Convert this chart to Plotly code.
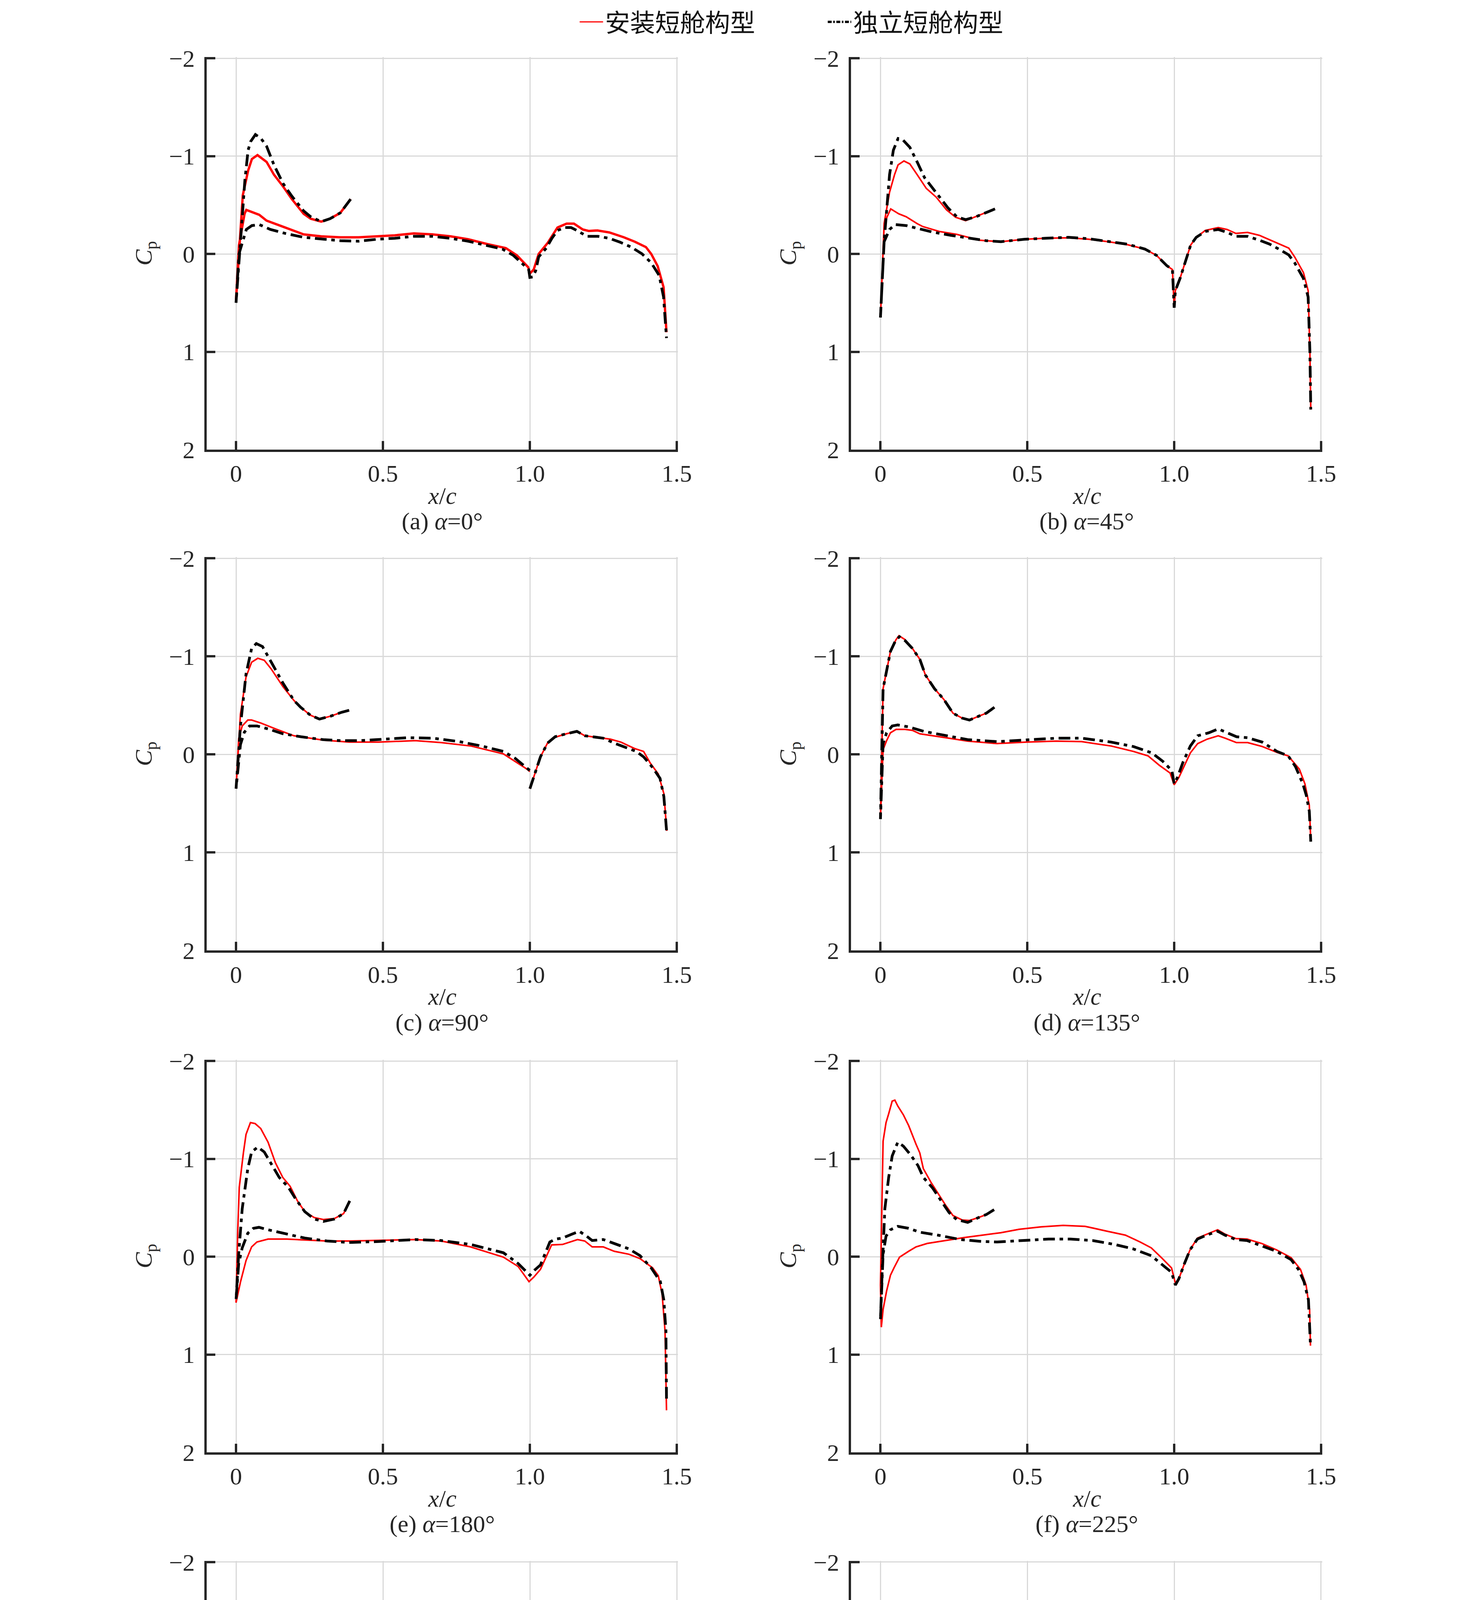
import plotly.graph_objects as go

# Cp distributions: (x/c, Cp); None splits a line
# inst = 安装短舱构型 (red), iso = 独立短舱构型 (black dash-dot)

A_INST = [(0.39, -0.56), (0.355, -0.42), (0.32, -0.36), (0.29, -0.33), (0.254, -0.36), (0.23, -0.41),
          (0.19, -0.56), (0.16, -0.69), (0.129, -0.81), (0.104, -0.94), (0.073, -1.01), (0.054, -0.97),
          (0.041, -0.85), (0.023, -0.6), (0.0, 0.47), (0.01, -0.09), (0.029, -0.41), (0.035, -0.45),
          (0.079, -0.40), (0.104, -0.34), (0.167, -0.27), (0.23, -0.20), (0.29, -0.18), (0.355, -0.17),
          (0.417, -0.17), (0.48, -0.18), (0.54, -0.19), (0.605, -0.21), (0.668, -0.20), (0.73, -0.18),
          (0.79, -0.15), (0.856, -0.10), (0.918, -0.06), (0.956, 0.015), (0.994, 0.135), (1.0, 0.20),
          (1.013, 0.16), (1.03, 0.0), (1.06, -0.11), (1.094, -0.27), (1.125, -0.31), (1.15, -0.31),
          (1.18, -0.25), (1.2, -0.235), (1.23, -0.24), (1.27, -0.22), (1.32, -0.17), (1.357, -0.125),
          (1.395, -0.07), (1.413, 0.0), (1.435, 0.125), (1.455, 0.34), (1.46, 0.6), (1.465, 0.8)]
A_ISO = [(0.39, -0.56), (0.355, -0.42), (0.32, -0.36), (0.29, -0.33), (0.254, -0.38), (0.23, -0.44),
         (0.19, -0.59), (0.16, -0.72), (0.129, -0.91), (0.104, -1.10), (0.085, -1.18), (0.066, -1.22),
         (0.05, -1.15), (0.041, -1.06), (0.03, -0.75), (0.016, -0.13), (0.0, 0.50), (0.01, 0.0),
         (0.023, -0.13), (0.035, -0.25), (0.054, -0.29), (0.079, -0.30), (0.117, -0.25), (0.167, -0.21),
         (0.23, -0.17), (0.29, -0.15), (0.355, -0.135), (0.417, -0.13), (0.48, -0.15), (0.54, -0.16),
         (0.605, -0.18), (0.668, -0.18), (0.73, -0.16), (0.79, -0.13), (0.856, -0.085), (0.906, -0.05),
         (0.944, 0.015), (0.98, 0.11), (0.996, 0.16), (1.0, 0.24), (1.01, 0.235), (1.02, 0.17),
         (1.03, 0.03), (1.056, -0.06), (1.075, -0.16), (1.094, -0.24), (1.12, -0.27), (1.14, -0.27),
         (1.163, -0.235), (1.194, -0.18), (1.232, -0.18), (1.27, -0.16), (1.307, -0.12), (1.345, -0.07),
         (1.382, 0.0), (1.413, 0.09), (1.44, 0.22), (1.455, 0.44), (1.465, 0.86)]

B_INST = [(0.39, -0.46), (0.356, -0.42), (0.325, -0.38), (0.29, -0.34), (0.256, -0.375), (0.225, -0.45),
          (0.19, -0.58), (0.156, -0.67), (0.125, -0.81), (0.1, -0.92), (0.08, -0.95), (0.06, -0.91),
          (0.048, -0.81), (0.031, -0.63), (0.0125, -0.31), (0.0, 0.65), (0.0125, -0.28), (0.022, -0.375),
          (0.035, -0.46), (0.0625, -0.41), (0.0875, -0.38), (0.125, -0.31), (0.144, -0.28), (0.2, -0.23),
          (0.26, -0.20), (0.3375, -0.14), (0.41, -0.125), (0.49, -0.15), (0.56, -0.16), (0.64, -0.165),
          (0.71, -0.15), (0.775, -0.125), (0.84, -0.095), (0.9, -0.05), (0.94, 0.015), (0.975, 0.12),
          (0.994, 0.16), (1.0, 0.55), (1.004, 0.375), (1.02, 0.25), (1.04, 0.06), (1.056, -0.09),
          (1.075, -0.17), (1.106, -0.24), (1.15, -0.27), (1.18, -0.25), (1.21, -0.21), (1.25, -0.22),
          (1.29, -0.19), (1.34, -0.125), (1.39, -0.06), (1.41, 0.03), (1.44, 0.19), (1.456, 0.375),
          (1.462, 1.0), (1.465, 1.59)]
B_ISO = [(0.39, -0.46), (0.356, -0.42), (0.325, -0.38), (0.29, -0.35), (0.26, -0.38), (0.23, -0.47),
         (0.2, -0.59), (0.175, -0.69), (0.15, -0.78), (0.125, -0.94), (0.1, -1.09), (0.075, -1.17),
         (0.06, -1.18), (0.044, -1.06), (0.031, -0.81), (0.0125, -0.125), (0.0, 0.65), (0.0125, -0.125),
         (0.031, -0.25), (0.05, -0.30), (0.0875, -0.29), (0.125, -0.26), (0.175, -0.225), (0.24, -0.19),
         (0.3, -0.16), (0.36, -0.135), (0.41, -0.125), (0.49, -0.15), (0.56, -0.16), (0.64, -0.17),
         (0.71, -0.155), (0.775, -0.13), (0.84, -0.10), (0.9, -0.05), (0.94, 0.015), (0.975, 0.12),
         (0.994, 0.16), (1.0, 0.55), (1.004, 0.375), (1.02, 0.25), (1.04, 0.06), (1.056, -0.09),
         (1.075, -0.17), (1.106, -0.23), (1.15, -0.25), (1.18, -0.22), (1.21, -0.18), (1.25, -0.18),
         (1.29, -0.14), (1.325, -0.10), (1.356, -0.05), (1.39, 0.01), (1.41, 0.09), (1.44, 0.25),
         (1.456, 0.44), (1.462, 1.0), (1.465, 1.59)]

C_INST = [(0.385, -0.45), (0.36, -0.43), (0.322, -0.39), (0.284, -0.36), (0.253, -0.40), (0.22, -0.48),
          (0.197, -0.55), (0.16, -0.69), (0.12, -0.87), (0.096, -0.96), (0.074, -0.98), (0.053, -0.94),
          (0.034, -0.79), (0.015, -0.41), (0.0, 0.35), (0.009, -0.16), (0.021, -0.29), (0.04, -0.35),
          (0.053, -0.35), (0.084, -0.32), (0.134, -0.26), (0.197, -0.19), (0.297, -0.145), (0.385, -0.125),
          (0.485, -0.125), (0.61, -0.14), (0.698, -0.12), (0.8, -0.085), (0.91, -0.005), (0.96, 0.09),
          (0.99, 0.15), (1.0, 0.175), (None, None), (1.0, 0.35), (1.015, 0.21), (1.036, 0.025),
          (1.06, -0.115), (1.086, -0.175), (1.124, -0.21), (1.16, -0.235), (1.187, -0.19), (1.21, -0.18),
          (1.274, -0.155), (1.31, -0.125), (1.356, -0.06), (1.387, -0.03), (1.41, 0.09), (1.437, 0.2),
          (1.456, 0.40), (1.466, 0.78)]
C_ISO = [(0.385, -0.45), (0.36, -0.43), (0.322, -0.39), (0.284, -0.36), (0.253, -0.40), (0.22, -0.48),
         (0.197, -0.55), (0.16, -0.725), (0.12, -0.94), (0.09, -1.10), (0.069, -1.13), (0.053, -1.08),
         (0.034, -0.82), (0.015, -0.29), (0.0, 0.35), (0.015, -0.10), (0.028, -0.225), (0.046, -0.29),
         (0.071, -0.29), (0.109, -0.26), (0.16, -0.21), (0.22, -0.18), (0.297, -0.15), (0.36, -0.14),
         (0.42, -0.14), (0.51, -0.155), (0.585, -0.17), (0.67, -0.165), (0.76, -0.13), (0.836, -0.085),
         (0.91, -0.03), (0.95, 0.04), (0.986, 0.135), (1.0, 0.165), (None, None), (1.0, 0.35),
         (1.015, 0.21), (1.036, 0.025), (1.06, -0.115), (1.086, -0.18), (1.124, -0.21), (1.16, -0.235),
         (1.187, -0.19), (1.21, -0.18), (1.25, -0.165), (1.287, -0.115), (1.325, -0.075), (1.362, -0.03),
         (1.387, 0.025), (1.418, 0.135), (1.443, 0.245), (1.456, 0.43), (1.466, 0.81)]

D_INST = [(0.388, -0.48), (0.36, -0.42), (0.335, -0.39), (0.303, -0.35), (0.278, -0.37), (0.247, -0.42),
          (0.216, -0.56), (0.184, -0.67), (0.153, -0.81), (0.134, -0.97), (0.109, -1.08), (0.084, -1.17),
          (0.063, -1.21), (0.053, -1.17), (0.034, -1.05), (0.021, -0.86), (0.009, -0.67), (0.0, 0.66),
          (0.009, -0.05), (0.021, -0.14), (0.034, -0.22), (0.053, -0.255), (0.084, -0.255), (0.109, -0.245),
          (0.134, -0.21), (0.222, -0.17), (0.297, -0.135), (0.397, -0.11), (0.497, -0.125), (0.598, -0.135),
          (0.685, -0.13), (0.786, -0.085), (0.861, -0.03), (0.911, 0.015), (0.949, 0.11), (0.986, 0.19),
          (1.0, 0.31), (1.016, 0.235), (1.036, 0.11), (1.055, -0.015), (1.08, -0.11), (1.112, -0.155),
          (1.15, -0.19), (1.174, -0.165), (1.212, -0.12), (1.25, -0.12), (1.3, -0.08), (1.35, -0.02),
          (1.388, 0.015), (1.426, 0.15), (1.445, 0.30), (1.46, 0.52), (1.465, 0.88)]
D_ISO = [(0.388, -0.48), (0.36, -0.42), (0.335, -0.39), (0.303, -0.35), (0.278, -0.37), (0.247, -0.42),
         (0.216, -0.56), (0.184, -0.67), (0.153, -0.81), (0.134, -0.97), (0.109, -1.08), (0.084, -1.16),
         (0.065, -1.20), (0.053, -1.17), (0.034, -1.05), (0.021, -0.86), (0.009, -0.67), (0.0, 0.66),
         (0.009, -0.11), (0.021, -0.22), (0.04, -0.29), (0.059, -0.30), (0.096, -0.28), (0.147, -0.235),
         (0.222, -0.19), (0.297, -0.15), (0.397, -0.13), (0.497, -0.145), (0.598, -0.165), (0.685, -0.165),
         (0.786, -0.125), (0.861, -0.08), (0.924, -0.015), (0.961, 0.07), (0.992, 0.165), (1.0, 0.30),
         (1.011, 0.235), (1.03, 0.08), (1.055, -0.085), (1.08, -0.19), (1.118, -0.22), (1.15, -0.26),
         (1.174, -0.23), (1.212, -0.18), (1.25, -0.17), (1.3, -0.125), (1.35, -0.03), (1.388, 0.015),
         (1.413, 0.125), (1.438, 0.30), (1.45, 0.42), (1.46, 0.58), (1.465, 0.89)]

E_INST = [(0.387, -0.57), (0.366, -0.44), (0.335, -0.39), (0.297, -0.38), (0.266, -0.40), (0.234, -0.46),
          (0.209, -0.57), (0.184, -0.72), (0.159, -0.81), (0.134, -0.96), (0.109, -1.17), (0.084, -1.31),
          (0.065, -1.36), (0.049, -1.37), (0.034, -1.25), (0.025, -1.06), (0.011, -0.71), (0.006, -0.28),
          (0.0, 0.47), (0.015, 0.26), (0.034, 0.04), (0.053, -0.10), (0.071, -0.15), (0.109, -0.18),
          (0.172, -0.18), (0.234, -0.17), (0.31, -0.16), (0.385, -0.16), (0.485, -0.165), (0.61, -0.175),
          (0.698, -0.16), (0.798, -0.10), (0.91, 0.005), (0.96, 0.10), (0.997, 0.255), (1.013, 0.21),
          (1.036, 0.13), (1.061, -0.04), (1.074, -0.12), (1.111, -0.125), (1.137, -0.15), (1.162, -0.175),
          (1.187, -0.16), (1.212, -0.10), (1.25, -0.10), (1.287, -0.055), (1.337, -0.025), (1.375, 0.02),
          (1.418, 0.115), (1.437, 0.195), (1.45, 0.38), (1.46, 0.76), (1.465, 1.57)]
E_ISO = [(0.387, -0.57), (0.366, -0.44), (0.335, -0.385), (0.297, -0.36), (0.266, -0.385), (0.234, -0.46),
         (0.203, -0.59), (0.178, -0.71), (0.147, -0.81), (0.12, -0.95), (0.096, -1.07), (0.074, -1.12),
         (0.053, -1.07), (0.04, -0.90), (0.021, -0.49), (0.009, -0.03), (0.0, 0.44), (0.009, 0.07),
         (0.021, -0.09), (0.04, -0.24), (0.059, -0.29), (0.078, -0.30), (0.109, -0.275), (0.172, -0.23),
         (0.234, -0.19), (0.31, -0.16), (0.385, -0.145), (0.485, -0.155), (0.61, -0.175), (0.698, -0.165),
         (0.798, -0.125), (0.91, -0.04), (0.96, 0.07), (1.0, 0.19), (1.015, 0.14), (1.036, 0.085),
         (1.068, -0.15), (1.087, -0.18), (1.111, -0.19), (1.143, -0.23), (1.168, -0.26), (1.193, -0.21),
         (1.212, -0.165), (1.25, -0.175), (1.287, -0.135), (1.337, -0.08), (1.375, -0.01), (1.413, 0.115),
         (1.444, 0.255), (1.456, 0.445), (1.463, 0.76), (1.465, 1.48)]

F_INST = [(0.387, -0.48), (0.36, -0.43), (0.334, -0.40), (0.303, -0.37), (0.278, -0.375), (0.247, -0.42),
          (0.222, -0.525), (0.196, -0.65), (0.172, -0.76), (0.146, -0.90), (0.134, -1.06), (0.121, -1.15),
          (0.096, -1.34), (0.078, -1.45), (0.059, -1.54), (0.049, -1.60), (0.04, -1.59), (0.028, -1.46),
          (0.019, -1.37), (0.009, -1.18), (0.0, 0.29), (0.003, 0.72), (0.009, 0.54), (0.021, 0.35),
          (0.034, 0.19), (0.046, 0.115), (0.065, 0.005), (0.096, -0.055), (0.121, -0.10), (0.159, -0.135),
          (0.222, -0.165), (0.284, -0.195), (0.347, -0.22), (0.41, -0.245), (0.472, -0.28), (0.547, -0.305),
          (0.622, -0.32), (0.697, -0.31), (0.772, -0.26), (0.834, -0.22), (0.884, -0.15), (0.922, -0.09),
          (0.96, 0.02), (0.991, 0.115), (1.004, 0.27), (1.016, 0.225), (1.035, 0.07), (1.054, -0.07),
          (1.079, -0.19), (1.11, -0.23), (1.148, -0.275), (1.173, -0.23), (1.21, -0.185), (1.248, -0.18),
          (1.298, -0.135), (1.348, -0.07), (1.398, 0.01), (1.43, 0.13), (1.449, 0.29), (1.461, 0.54),
          (1.464, 0.91)]
F_ISO = [(0.387, -0.48), (0.36, -0.43), (0.334, -0.40), (0.297, -0.35), (0.259, -0.38), (0.234, -0.45),
         (0.209, -0.56), (0.178, -0.70), (0.146, -0.81), (0.128, -0.93), (0.103, -1.04), (0.078, -1.13),
         (0.059, -1.17), (0.04, -1.03), (0.028, -0.81), (0.015, -0.49), (0.006, 0.13), (0.0, 0.65),
         (0.009, -0.025), (0.019, -0.21), (0.034, -0.275), (0.059, -0.31), (0.096, -0.29), (0.134, -0.25),
         (0.196, -0.22), (0.272, -0.175), (0.347, -0.155), (0.397, -0.15), (0.472, -0.165), (0.572, -0.18),
         (0.647, -0.18), (0.722, -0.165), (0.797, -0.125), (0.86, -0.08), (0.922, -0.01), (0.96, 0.085),
         (0.991, 0.16), (1.004, 0.29), (1.016, 0.225), (1.035, 0.07), (1.054, -0.07), (1.079, -0.18),
         (1.11, -0.22), (1.148, -0.26), (1.173, -0.22), (1.21, -0.175), (1.248, -0.165), (1.298, -0.11),
         (1.348, -0.055), (1.398, 0.03), (1.423, 0.13), (1.442, 0.255), (1.457, 0.44), (1.464, 0.91)]

G_INST = [(0.385, -0.46), (0.36, -0.43), (0.322, -0.39), (0.284, -0.36), (0.259, -0.39), (0.234, -0.45),
          (0.209, -0.55), (0.178, -0.68), (0.147, -0.81), (0.122, -1.00), (0.096, -1.20), (0.078, -1.32),
          (0.061, -1.40), (0.053, -1.42), (0.04, -1.33), (0.028, -1.13), (0.015, -0.61), (0.006, 0.035),
          (0.003, 0.46), (0.015, 0.30), (0.034, 0.035), (0.053, -0.11), (0.071, -0.14), (0.109, -0.175),
          (0.147, -0.20), (0.197, -0.23), (0.259, -0.255), (0.335, -0.29), (0.41, -0.33), (0.485, -0.37),
          (0.56, -0.39), (0.635, -0.395), (0.704, -0.38), (0.786, -0.305), (0.862, -0.21), (0.925, -0.125),
          (0.962, -0.015), (1.0, 0.085), (None, None), (1.0, 0.27), (1.015, 0.07), (1.034, -0.06),
          (1.053, -0.185), (1.085, -0.29), (1.122, -0.32), (1.147, -0.34), (1.172, -0.31), (1.203, -0.265),
          (1.234, -0.255), (1.284, -0.21), (1.334, -0.125), (1.384, -0.045), (1.41, 0.05), (1.435, 0.165),
          (1.45, 0.36), (1.46, 0.685), (1.463, 0.81)]
G_ISO = [(0.385, -0.46), (0.36, -0.43), (0.322, -0.39), (0.284, -0.36), (0.259, -0.40), (0.234, -0.46),
         (0.209, -0.55), (0.184, -0.65), (0.159, -0.73), (0.134, -0.87), (0.109, -1.02), (0.084, -1.13),
         (0.065, -1.18), (0.046, -1.07), (0.034, -0.87), (0.021, -0.61), (0.009, -0.13), (0.0, 0.38),
         (0.009, 0.10), (0.021, -0.09), (0.034, -0.21), (0.053, -0.29), (0.078, -0.30), (0.109, -0.28),
         (0.172, -0.22), (0.234, -0.19), (0.31, -0.17), (0.385, -0.16), (0.485, -0.175), (0.61, -0.19),
         (0.698, -0.175), (0.798, -0.12), (0.91, -0.02), (0.962, 0.085), (1.0, 0.165), (None, None),
         (1.0, 0.35), (1.015, 0.20), (1.034, 0.02), (1.053, -0.095), (1.085, -0.19), (1.122, -0.23),
         (1.147, -0.25), (1.172, -0.225), (1.197, -0.175), (1.234, -0.165), (1.284, -0.12), (1.334, -0.055),
         (1.384, 0.02), (1.41, 0.10), (1.435, 0.23), (1.45, 0.425), (1.46, 0.815)]

H_INST = [(0.386, -0.46), (0.355, -0.42), (0.317, -0.37), (0.286, -0.35), (0.255, -0.39), (0.23, -0.46),
          (0.205, -0.55), (0.18, -0.65), (0.155, -0.745), (0.136, -0.875), (0.111, -1.0), (0.086, -1.10),
          (0.0675, -1.145), (0.053, -1.12), (0.036, -0.84), (0.024, -0.62), (0.011, -0.23), (0.0, 0.65),
          (0.011, -0.16), (0.024, -0.29), (0.0425, -0.34), (0.0675, -0.34), (0.105, -0.32), (0.1425, -0.28),
          (0.205, -0.26), (0.28, -0.235), (0.355, -0.22), (0.405, -0.22), (0.48, -0.25), (0.58, -0.265),
          (0.6675, -0.27), (0.755, -0.23), (0.83, -0.18), (0.905, -0.10), (0.955, -0.005), (0.99, 0.09),
          (1.0, 0.325), (1.011, 0.26), (1.024, 0.13), (1.0425, -0.03), (1.061, -0.145), (1.086, -0.26),
          (1.1175, -0.30), (1.155, -0.32), (1.186, -0.275), (1.2175, -0.25), (1.255, -0.245), (1.305, -0.195),
          (1.355, -0.12), (1.3925, -0.07), (1.4175, 0.03), (1.4425, 0.195), (1.455, 0.36), (1.461, 1.0),
          (1.465, 1.62)]
H_ISO = [(0.386, -0.46), (0.355, -0.42), (0.317, -0.37), (0.286, -0.35), (0.255, -0.39), (0.23, -0.46),
         (0.205, -0.55), (0.18, -0.65), (0.155, -0.745), (0.136, -0.875), (0.111, -0.99), (0.086, -1.13),
         (0.065, -1.19), (0.049, -1.14), (0.036, -0.88), (0.024, -0.62), (0.011, -0.23), (0.0, 0.65),
         (0.011, -0.13), (0.024, -0.23), (0.0425, -0.29), (0.0675, -0.30), (0.105, -0.275), (0.1425, -0.235),
         (0.205, -0.20), (0.28, -0.175), (0.355, -0.145), (0.405, -0.14), (0.48, -0.16), (0.58, -0.18),
         (0.6675, -0.18), (0.755, -0.15), (0.83, -0.115), (0.905, -0.03), (0.955, 0.065), (0.986, 0.13),
         (0.9975, 0.195), (1.0, 0.49), (1.0075, 0.34), (1.024, 0.195), (1.0425, 0.03), (1.061, -0.08),
         (1.086, -0.18), (1.1175, -0.23), (1.155, -0.25), (1.186, -0.21), (1.2175, -0.18), (1.255, -0.17),
         (1.305, -0.115), (1.355, -0.04), (1.3925, 0.03), (1.4175, 0.13), (1.4425, 0.29), (1.455, 0.52),
         (1.461, 1.01), (1.465, 1.62)]

TAGS = ['(a)', '(b)', '(c)', '(d)', '(e)', '(f)', '(g)', '(h)']
ALPHAS = [0, 45, 90, 135, 180, 225, 270, 315]
INST = [A_INST, B_INST, C_INST, D_INST, E_INST, F_INST, G_INST, H_INST]
ISO = [A_ISO, B_ISO, C_ISO, D_ISO, E_ISO, F_ISO, G_ISO, H_ISO]
NAMES = ['安装短舱构型', '独立短舱构型']
X_TICKS = [0, 0.5, 1.0, 1.5]
X_TICKTEXT = ['0', '0.5', '1.0', '1.5']
Y_TICKS = [-2, -1, 0, 1, 2]
Y_TICKTEXT = ['\u22122', '\u22121', '0', '1', '2']

SERIF = 'Liberation Serif, Times New Roman, serif'
CJK = 'Noto Sans CJK SC'
INK = '#262626'
RED = '#ff0000'
DASHDOT = '30px,12px,9px,12px'
RED_W = [6, 4, 4, 4, 4, 4, 4, 4]   # panel (a) is drawn heavier in the source

# panel placement (paper fractions)
x_dom = [[0.1378, 0.4569], [0.5741, 0.8931]]
y_dom = [[0.7831, 0.9738], [0.5398, 0.7309], [0.2960, 0.4867], [0.0512, 0.2433]]


def split(pairs):
    return [p[0] for p in pairs], [p[1] for p in pairs]


fig = go.Figure()
notes = []

for i in range(8):
    row, col = divmod(i, 2)
    n = '' if i == 0 else str(i + 1)
    xr, cpr = split(INST[i])
    xb, cpb = split(ISO[i])
    fig.add_trace(go.Scatter(x=xr, y=cpr, mode='lines', xaxis='x' + n, yaxis='y' + n,
                             line=dict(color=RED, width=RED_W[i]), showlegend=False, hoverinfo='skip'))
    fig.add_trace(go.Scatter(x=xb, y=cpb, mode='lines', xaxis='x' + n, yaxis='y' + n,
                             line=dict(color='black', width=7, dash=DASHDOT), showlegend=False,
                             hoverinfo='skip'))

    axis_common = dict(showline=True, linecolor=INK, linewidth=6, mirror=False,
                       showgrid=True, gridcolor='#d9d9d9', gridwidth=3, zeroline=False,
                       ticks='inside', ticklen=22, tickwidth=6, tickcolor=INK,
                       tickfont=dict(family=SERIF, size=62, color=INK))
    # ranges nudged a few px past 1.5 / -2 so the edge gridlines are kept
    fig.layout['xaxis' + n] = dict(
        axis_common, domain=x_dom[col], anchor='y' + n, range=[-0.1, 1.504],
        tickvals=X_TICKS, ticktext=X_TICKTEXT, ticklabelstandoff=2)
    fig.layout['yaxis' + n] = dict(
        axis_common, domain=y_dom[row], anchor='x' + n, range=[2, -2.012],
        tickvals=Y_TICKS, ticktext=Y_TICKTEXT, ticklabelstandoff=12,
        title=dict(text='<i>C</i><sub>p</sub>', font=dict(family=SERIF, size=62, color=INK),
                   standoff=26))

    # x label and panel caption under each plot
    for txt, yy in (('<i>x</i>/<i>c</i>', -0.117), ('%s <i>α</i>=%d°' % (TAGS[i], ALPHAS[i]), -0.183)):
        notes.append(dict(text=txt, xref='x' + n + ' domain', yref='y' + n + ' domain',
                          x=0.5, y=yy, xanchor='center', yanchor='middle', showarrow=False,
                          font=dict(family=SERIF, size=62, color=INK)))

# legend-only entries
fig.add_trace(go.Scatter(x=[None], y=[None], mode='lines', name=NAMES[0],
                         line=dict(color=RED, width=3)))
fig.add_trace(go.Scatter(x=[None], y=[None], mode='lines', name=NAMES[1],
                         line=dict(color='black', width=6, dash='10px,4px,4px,4px')))

fig.update_layout(
    width=3780, height=5270,
    margin=dict(l=0, r=0, t=0, b=0, autoexpand=False),
    paper_bgcolor='white', plot_bgcolor='white',
    font=dict(family=SERIF, color=INK),
    annotations=notes,
    legend=dict(orientation='h', x=0.557, y=1.0, xanchor='center', yanchor='top',
                font=dict(family=CJK, size=64, color='#111111'), itemwidth=60,
                entrywidth=560, entrywidthmode='pixels',
                bgcolor='rgba(0,0,0,0)'),
)

fig.write_html('out.html')
